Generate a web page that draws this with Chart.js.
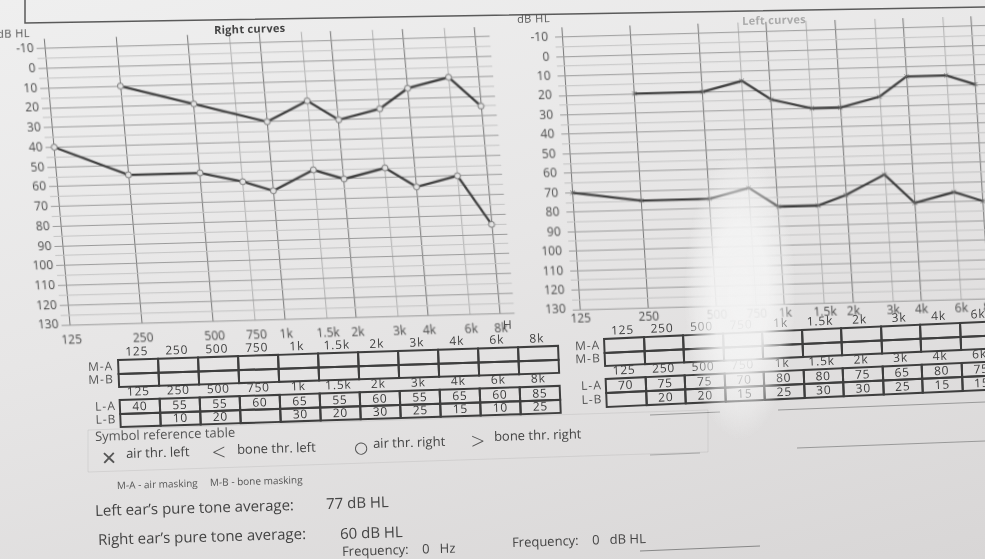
<!DOCTYPE html>
<html>
<head>
<meta charset="utf-8">
<script src="https://cdn.jsdelivr.net/npm/chart.js@4/dist/chart.umd.min.js"></script>
<style>
  html, body { margin: 0; padding: 0; }
  body {
    width: 985px; height: 559px; overflow: hidden; position: relative;
    background: linear-gradient(165deg, #efefef 0%, #e7e6e6 45%, #d8d6d6 100%);
    font-family: "Open Sans", "DejaVu Sans", sans-serif; color: #444;
  }
  .t { position: absolute; white-space: nowrap; line-height: 1; transform: rotate(-1.7deg); transform-origin: 0 50%; }
  canvas { position: absolute; }
  .tbl { position: absolute; left: 0; top: 0; width: 985px; height: 559px; }
  .cell {
    position: absolute; box-sizing: border-box; border: 2px solid #3e3e3e;
    font-size: 12px; color: #3a3a3a; letter-spacing: 0.8px; line-height: 1;
    display: flex; align-items: center; justify-content: center;
  }
  .hdr { position: absolute; font-size: 12px; color: #3f3f3f; text-align: center; line-height: 1; letter-spacing: 0.8px; }
  .rowlab { position: absolute; font-size: 12px; color: #555; text-align: right; line-height: 1; letter-spacing: 1px; }
  #glare {
    position: absolute; left: 684px; top: 150px; width: 112px; height: 290px; pointer-events: none;
    background: radial-gradient(ellipse closest-side, rgba(243,243,243,0.96) 0%, rgba(243,243,243,0.9) 50%, rgba(243,243,243,0.45) 80%, rgba(243,243,243,0) 100%);
  }
</style>
</head>
<body>
<svg width="985" height="559" style="position:absolute;left:0;top:0">
  <polyline points="25,0 25,23 985,7" fill="none" stroke="#5a5a5a" stroke-width="1.5"/>
  <line x1="650" y1="415" x2="720" y2="412" stroke="#999" stroke-width="1"/>
  <line x1="778" y1="410" x2="985" y2="402" stroke="#999" stroke-width="1"/>
  <line x1="650" y1="455" x2="700" y2="453" stroke="#aaa" stroke-width="1"/>
  <line x1="797" y1="448" x2="985" y2="441" stroke="#999" stroke-width="1"/>
  <line x1="640" y1="551" x2="760" y2="546" stroke="#888" stroke-width="1"/>
  <polygon points="88,430 708,410 708,452 88,472" fill="none" stroke="rgba(0,0,0,0.07)"/>
</svg>

<canvas id="rightCurves" width="520" height="360"
  style="left:0;top:0;transform:matrix(1,-0.027,0.09,1,0,0);transform-origin:270px 180px"></canvas>
<canvas id="leftCurves" width="520" height="360"
  style="left:500px;top:0;transform:matrix(1,-0.027,0.065,1,0,0);transform-origin:270px 170px"></canvas>

<div class="t" style="left:-3px;top:28px;font-size:11px;color:#555;letter-spacing:0.5px">dB HL</div>
<div class="t" style="left:517px;top:13px;font-size:11px;color:#555;letter-spacing:0.5px">dB HL</div>
<div class="t" style="left:214px;top:24px;font-size:11px;font-weight:bold;color:#444;letter-spacing:0.3px">Right curves</div>
<div class="t" style="left:742px;top:15px;font-size:11px;font-weight:bold;color:#aaa;letter-spacing:0.3px">Left curves</div>
<div class="t" style="left:503px;top:319px;font-size:12px;color:#4a4a4a">H</div>

<div id="tablesR" class="tbl" style="transform:matrix(1,-0.032,0.04,1,0,0);transform-origin:117px 359px"></div>
<div id="tablesL" class="tbl" style="transform:matrix(1,-0.045,0.04,1,0,0);transform-origin:603px 338px"></div>

<div class="t" style="left:95px;top:430px;font-size:13px;color:#555">Symbol reference table</div>
<div class="t" style="left:101px;top:449px;font-size:19px;color:#555;font-family:'DejaVu Sans'">✕</div>
<div class="t" style="left:126px;top:447px;font-size:13px;color:#444">air thr. left</div>
<div class="t" style="left:212px;top:440px;font-size:24px;color:#555;font-weight:300">&lt;</div>
<div class="t" style="left:237px;top:443px;font-size:13px;color:#444">bone thr. left</div>
<div class="t" style="left:354px;top:440px;font-size:16px;color:#555;font-family:'DejaVu Sans'">○</div>
<div class="t" style="left:373px;top:437px;font-size:13px;color:#444">air thr. right</div>
<div class="t" style="left:471px;top:429px;font-size:24px;color:#555;font-weight:300">&gt;</div>
<div class="t" style="left:494px;top:430px;font-size:13px;color:#444">bone thr. right</div>

<div class="t" style="left:117px;top:480px;font-size:10px;color:#555">M-A - air masking</div>
<div class="t" style="left:210px;top:477px;font-size:10px;color:#555">M-B - bone masking</div>

<div class="t" style="left:95px;top:503px;font-size:15px;color:#444">Left ear’s pure tone average:</div>
<div class="t" id="leftPta" style="left:326px;top:496px;font-size:15px;color:#444"></div>
<div class="t" style="left:98px;top:532px;font-size:15px;color:#444">Right ear’s pure tone average:</div>
<div class="t" id="rightPta" style="left:340px;top:526px;font-size:15px;color:#444"></div>
<div class="t" style="left:342px;top:545px;font-size:13px;color:#444">Frequency:&nbsp;&nbsp;&nbsp; 0 &nbsp;&nbsp;Hz</div>
<div class="t" style="left:512px;top:536px;font-size:13px;color:#444">Frequency:&nbsp;&nbsp;&nbsp; 0 &nbsp;&nbsp;dB HL</div>

<div id="glare"></div>

<script>
// Test frequencies (Hz) and their printed labels
const freqHz = [125, 250, 500, 750, 1000, 1500, 2000, 3000, 4000, 6000, 8000];
const freqLabels = ['125', '250', '500', '750', '1k', '1.5k', '2k', '3k', '4k', '6k', '8k'];

// "Right curves" panel thresholds (dB HL), rows L-A / L-B
const rightPanelAir  = [40, 55, 55, 60, 65, 55, 60, 55, 65, 60, 85];
const rightPanelBone = [null, 10, 20, null, 30, 20, 30, 25, 15, 10, 25];

// "Left curves" panel thresholds (dB HL), rows L-A / L-B
const leftPanelAir  = [70, 75, 75, 70, 80, 80, 75, 65, 80, 75, 80];
const leftPanelBone = [null, 20, 20, 15, 25, 30, 30, 25, 15, 15, 20];

// Masking rows (no entries)
const maskAir  = [null, null, null, null, null, null, null, null, null, null, null];
const maskBone = [null, null, null, null, null, null, null, null, null, null, null];

// Pure tone averages (dB HL)
const leftPta = 77;
const rightPta = 60;

document.getElementById('leftPta').textContent = leftPta + ' dB HL';
document.getElementById('rightPta').textContent = rightPta + ' dB HL';

const octaves = [125, 250, 500, 1000, 2000, 4000, 8000];

function points(values) {
  const out = [];
  values.forEach((v, i) => { if (v !== null) out.push({ x: freqHz[i], y: v }); });
  return out;
}

function audiogram(id, air, bone, cfg) {
  const line = (vals) => ({
    data: points(vals),
    borderColor: '#3b3b3b',
    borderWidth: 2.3,
    pointStyle: cfg.marker,
    pointRadius: 3,
    pointBorderWidth: 1,
    pointBorderColor: '#6f6f6f',
    pointBackgroundColor: '#e4e4e4',
    tension: 0,
    spanGaps: true
  });
  return new Chart(document.getElementById(id), {
    type: 'line',
    data: { datasets: [line(bone), line(air)] },
    options: {
      responsive: false,
      animation: false,
      devicePixelRatio: 1,
      layout: { padding: cfg.padding },
      plugins: { legend: { display: false }, tooltip: { enabled: false } },
      scales: {
        x: {
          type: 'logarithmic',
          min: cfg.xMin, max: cfg.xMax,
          afterBuildTicks: (s) => { s.ticks = freqHz.map(v => ({ value: v })); },
          afterFit: (s) => { s.height = 30; },
          border: { display: false },
          grid: {
            drawTicks: false,
            color: (c) => octaves.includes(c.tick && c.tick.value) ? '#767676' : '#b0b0b0',
            lineWidth: 1
          },
          ticks: {
            autoSkip: false, maxRotation: 0, padding: cfg.xPad,
            color: '#4a4a4a', font: { family: 'Open Sans', size: 12 },
            callback: (v) => { const i = freqHz.indexOf(v); return i >= 0 ? freqLabels[i] : ''; }
          }
        },
        y: {
          type: 'linear', reverse: true, min: -15, max: 130,
          afterFit: (s) => { s.width = cfg.yWidth; },
          border: { display: false },
          grid: {
            drawTicks: false,
            color: (c) => {
              const v = c.tick ? c.tick.value : 0;
              if (v === -15) return 'rgba(0,0,0,0)';
              return v % 10 === 0 ? '#9a9a9a' : '#c4c4c4';
            },
            lineWidth: 1
          },
          ticks: {
            stepSize: 5, autoSkip: false, padding: cfg.yPad,
            color: '#4a4a4a', font: { family: 'Open Sans', size: 12 },
            callback: (v) => (v % 10 === 0 ? v : '')
          }
        }
      }
    }
  });
}

audiogram('rightCurves', rightPanelAir, rightPanelBone, {
  marker: 'circle', padding: { top: 33, right: 18, bottom: 11, left: 0 },
  xMin: 114.9, xMax: 9242, yWidth: 49, xPad: 8, yPad: 3
});
audiogram('leftCurves', leftPanelAir, leftPanelBone, {
  marker: 'crossRot', padding: { top: 22, right: 24, bottom: 26, left: 0 },
  xMin: 115.9, xMax: 9365, yWidth: 64, xPad: 2, yPad: 7
});

// Threshold / masking tables under each panel
function tableBlock(host, x0, colW, hdrY, rowTop, rowH, labels, rows, labelRight) {
  const el = document.getElementById(host);
  freqLabels.forEach((f, i) => {
    const d = document.createElement('div');
    d.className = 'hdr';
    d.style.left = (x0 + i * colW) + 'px'; d.style.width = colW + 'px';
    d.style.top = (hdrY - 6) + 'px';
    d.textContent = f;
    el.appendChild(d);
  });
  rows.forEach((row, r) => {
    const lab = document.createElement('div');
    lab.className = 'rowlab';
    lab.style.left = (labelRight - 40) + 'px'; lab.style.width = '40px';
    lab.style.top = (rowTop + r * rowH + rowH / 2 - 6) + 'px';
    lab.textContent = labels[r];
    el.appendChild(lab);
    row.forEach((v, i) => {
      const c = document.createElement('div');
      c.className = 'cell';
      c.style.left = (x0 + i * colW) + 'px';
      c.style.top = (rowTop + r * rowH) + 'px';
      c.style.width = (colW + 2) + 'px';
      c.style.height = (rowH + 2) + 'px';
      c.textContent = v === null ? '' : String(v);
      el.appendChild(c);
    });
  });
}
// Right-curves tables
tableBlock('tablesR', 117, 40, 352, 359, 13.5, ['M-A', 'M-B'], [maskAir, maskBone], 113);
tableBlock('tablesR', 117, 40, 392, 399, 13.5, ['L-A', 'L-B'], [rightPanelAir, rightPanelBone], 114);
// Left-curves tables
tableBlock('tablesL', 603, 39.5, 331, 338, 13.5, ['M-A', 'M-B'], [maskAir, maskBone], 600);
tableBlock('tablesL', 603, 39.5, 371, 378, 14, ['L-A', 'L-B'], [leftPanelAir, leftPanelBone], 600);
</script>
</body>
</html>
